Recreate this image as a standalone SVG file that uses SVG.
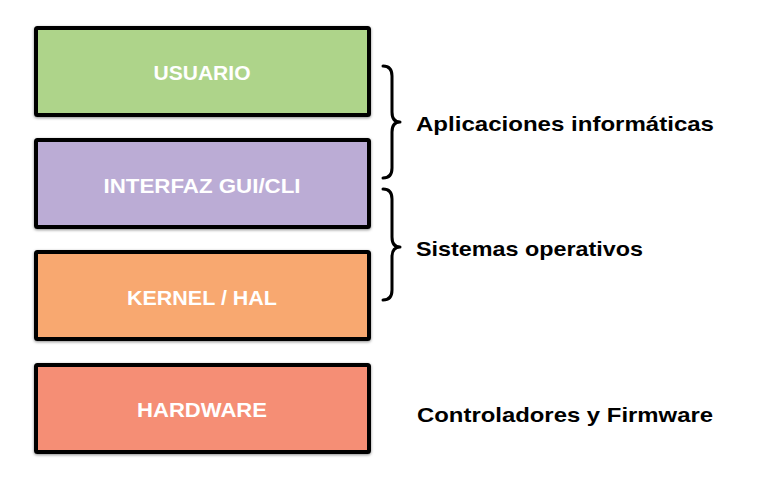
<svg xmlns="http://www.w3.org/2000/svg" width="779" height="477" viewBox="0 0 779 477">
<defs>
<filter id="sh" x="-10%" y="-10%" width="120%" height="130%">
<feDropShadow dx="0" dy="1" stdDeviation="1.6" flood-color="#000" flood-opacity="0.45"/>
</filter>
</defs>
<style>
.box{stroke:#000;stroke-width:4;filter:url(#sh)}
.bt{font-family:"Liberation Sans",Arial,sans-serif;font-weight:bold;font-size:20.5px;fill:#fff;text-anchor:middle}
.lt{font-family:"Liberation Sans",Arial,sans-serif;font-weight:bold;font-size:20.5px;fill:#000}
.brace{fill:none;stroke:#000;stroke-width:3;stroke-linecap:round;stroke-linejoin:round}
</style>
<rect width="779" height="477" fill="#fff"/>
<g id="usuario">
<rect class="box" x="36" y="28" width="333" height="87" rx="1.5" fill="#AED48A"/>
<text class="bt" x="202" y="80" textLength="97" lengthAdjust="spacingAndGlyphs">USUARIO</text>
</g>
<g id="interfaz">
<rect class="box" x="36" y="140" width="333" height="87" rx="1.5" fill="#BBACD5"/>
<text class="bt" x="202" y="193" textLength="197" lengthAdjust="spacingAndGlyphs">INTERFAZ GUI/CLI</text>
</g>
<g id="kernel">
<rect class="box" x="36" y="252" width="333" height="87" rx="1.5" fill="#F8A870"/>
<text class="bt" x="202" y="305" textLength="150" lengthAdjust="spacingAndGlyphs">KERNEL / HAL</text>
</g>
<g id="hardware">
<rect class="box" x="36" y="365" width="333" height="87" rx="1.5" fill="#F58E75"/>
<text class="bt" x="202" y="417" textLength="130" lengthAdjust="spacingAndGlyphs">HARDWARE</text>
</g>
<g id="connectors">
<path class="brace" d="M383,66 Q392,66 392,76 L392,112 Q392,122 400,122 Q392,122 392,132 L392,168 Q392,178 383,178"/>
<path class="brace" d="M383,189 Q392,189 392,199 L392,237 Q392,247 400,247 Q392,247 392,257 L392,290 Q392,300 383,300"/>
</g>
<g id="labels">
<text class="lt" x="416" y="131" textLength="298" lengthAdjust="spacingAndGlyphs">Aplicaciones informáticas</text>
<text class="lt" x="416" y="256" textLength="227" lengthAdjust="spacingAndGlyphs">Sistemas operativos</text>
<text class="lt" x="417" y="422" textLength="296" lengthAdjust="spacingAndGlyphs">Controladores y Firmware</text>
</g>
</svg>
